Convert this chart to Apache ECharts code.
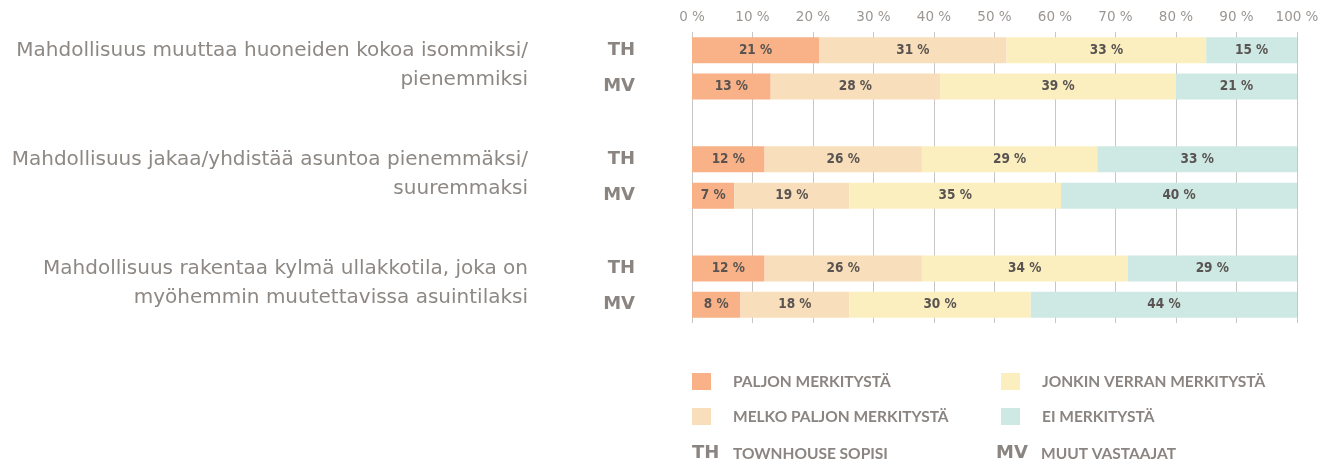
<!DOCTYPE html>
<html>
<head>
<meta charset="utf-8">
<script src="https://cdn.jsdelivr.net/npm/echarts@6/dist/echarts.min.js"></script>
<style>
  html, body { margin: 0; padding: 0; background: #fff; }
  #chart { width: 1340px; height: 467px; }
</style>
</head>
<body>
<div id="chart"></div>
<script>
// Rows: TH / MV per question, with an empty spacer row between questions
const rowLabels = ['TH', 'MV', '', 'TH', 'MV', '', 'TH', 'MV'];
const questions = [
  'Mahdollisuus muuttaa huoneiden kokoa isommiksi/\npienemmiksi',
  'Mahdollisuus jakaa/yhdistää asuntoa pienemmäksi/\nsuuremmaksi',
  'Mahdollisuus rakentaa kylmä ullakkotila, joka on\nmyöhemmin muutettavissa asuintilaksi'
];
const seriesNames = ['PALJON MERKITYSTÄ', 'MELKO PALJON MERKITYSTÄ', 'JONKIN VERRAN MERKITYSTÄ', 'EI MERKITYSTÄ'];
const paljon      = [21, 13, null, 12, 7, null, 12, 8];
const melkoPaljon = [31, 28, null, 26, 19, null, 26, 18];
const jonkinVerran= [33, 39, null, 29, 35, null, 34, 30];
const eiMerkitysta= [15, 21, null, 33, 40, null, 29, 44];
const xTicks = [0, 10, 20, 30, 40, 50, 60, 70, 80, 90, 100];
const abbrev = [['TH', 'TOWNHOUSE SOPISI'], ['MV', 'MUUT VASTAAJAT']];

const colors = ['#F9B287', '#F8DEBB', '#FBEFC0', '#CEE8E4'];
const textGray = '#8b8581';
const labelFont = "'Liberation Sans Narrow', 'DejaVu Sans Condensed', sans-serif";

const chart = echarts.init(document.getElementById('chart'));

const values = [paljon, melkoPaljon, jonkinVerran, eiMerkitysta];
const series = values.map((data, i) => ({
  name: seriesNames[i],
  type: 'bar',
  stack: 'total',
  data: data,
  barWidth: 26,
  clip: true,
  itemStyle: { color: colors[i] },
  label: {
    show: true,
    position: 'inside',
    formatter: p => p.value == null ? '' : p.value + ' %',
    color: '#595451',
    fontFamily: labelFont,
    fontWeight: 'bold',
    fontSize: 13.5
  }
}));

const legendText = { color: textGray, fontFamily: 'Lato', fontWeight: 'bold', fontSize: 15.5, padding: [0, 0, 0, 17] };

chart.setOption({
  animation: false,
  grid: { left: 692, right: 43, top: 32, bottom: 144 },
  xAxis: {
    type: 'value',
    position: 'top',
    min: xTicks[0],
    max: xTicks[xTicks.length - 1],
    interval: 10,
    axisLine: { show: false },
    axisTick: { show: false },
    splitLine: { show: true, lineStyle: { color: '#c9c7c5', width: 1 } },
    axisLabel: {
      formatter: '{value} %',
      color: '#9b9692',
      fontFamily: 'DejaVu Sans',
      fontSize: 13.5,
      margin: 8
    }
  },
  yAxis: {
    type: 'category',
    data: rowLabels,
    inverse: true,
    axisLine: { show: false },
    axisTick: { show: false },
    axisLabel: {
      color: textGray,
      fontFamily: 'DejaVu Sans',
      fontWeight: 'bold',
      fontSize: 18,
      margin: 57
    }
  },
  legend: [
    {
      data: seriesNames.slice(0, 2),
      left: 692, top: 373, padding: 0,
      orient: 'vertical',
      icon: 'rect', itemWidth: 19, itemHeight: 17, itemGap: 18,
      selectedMode: false,
      textStyle: legendText
    },
    {
      data: seriesNames.slice(2, 4),
      left: 1001, top: 373, padding: 0,
      orient: 'vertical',
      icon: 'rect', itemWidth: 19, itemHeight: 17, itemGap: 18,
      selectedMode: false,
      textStyle: legendText
    }
  ],
  series: series
});

// Question texts beside each TH/MV pair, plus the TH/MV key under the legend
const graphics = [];
questions.forEach((q, gi) => {
  const yTH = chart.convertToPixel({ yAxisIndex: 0 }, gi * 3);
  graphics.push({
    type: 'text',
    x: 528, y: yTH - 14,
    style: {
      text: q,
      align: 'right', verticalAlign: 'top',
      lineHeight: 29,
      fill: '#8d8884',
      font: 'normal 20px "DejaVu Sans"'
    }
  });
});
const keyX = [[692, 733], [996, 1041]];
abbrev.forEach((a, i) => {
  graphics.push({
    type: 'text', x: keyX[i][0], y: 453,
    style: { text: a[0], verticalAlign: 'middle', fill: textGray, font: 'bold 18px "DejaVu Sans"' }
  });
  graphics.push({
    type: 'text', x: keyX[i][1], y: 454,
    style: { text: a[1], verticalAlign: 'middle', fill: textGray, font: 'bold 15.5px Lato' }
  });
});
chart.setOption({ graphic: graphics });
</script>
</body>
</html>
